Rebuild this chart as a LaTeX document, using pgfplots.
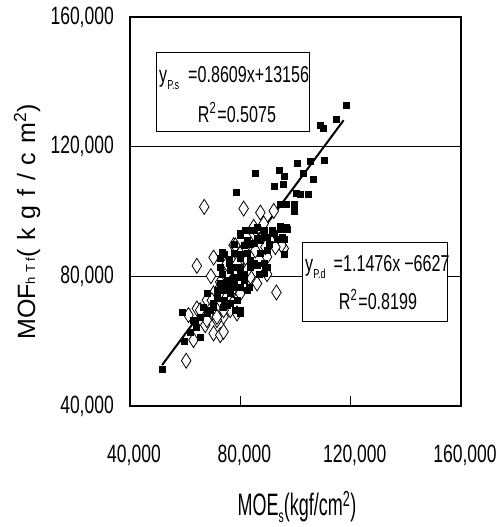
\documentclass[border=0pt]{standalone}
\usepackage{pgfplots}
\pgfplotsset{compat=1.18}
\usepackage{fontspec}
\setmainfont{Liberation Sans}
\newfontfamily\condf[FakeStretch=0.70]{Liberation Sans}
\newfontfamily\labf[FakeStretch=0.58]{Liberation Sans}
\newfontfamily\eqf[FakeStretch=0.70]{Liberation Sans}
\newfontfamily\widef[LetterSpace=35]{Liberation Sans}
\newfontfamily\widesub[LetterSpace=30]{Liberation Sans}

\pgfplotstableread{
x y
118416 132738
114538 128425
109084 126576
110054 125755
100600 115074
105206 115588
110296 115793
102782 111993
106418 110144
85450 111993
93934 112712
95752 110966
92116 107885
95510 108398
78542 105830
100358 105728
101812 105317
104600 105317
94540 102236
96722 102236
99630 102236
99388 100182
94540 95561
96722 95047
95146 91966
89692 92171
81814 94225
84844 94225
80000 93199
73330 87550
95752 86831
72724 85496
80000 85496
88480 83956
89692 82929
76360 81902
80000 80875
86662 80669
88480 80875
83026 76561
75148 75740
77572 76767
71512 73172
73694 70605
75148 71118
80000 69578
58786 68859
63998 64443
61816 62902
65452 61362
59756 60129
51756 51400
86056 91658
88480 93199
84844 90118
77572 87037
87268 87037
82420 87037
84844 83956
77572 82929
75148 78821
77572 79848
81208 78821
72724 77794
71512 75740
67876 74713
70300 71632
66664 70605
76360 74713
78784 72659
83632 82929
89692 88064
92116 93199
82420 91145
72724 82929
75754 83956
69088 69578
65452 67524
63028 66496
80000 92615
83026 94154
86056 95180
88480 94154
91510 94154
94540 94667
96964 94667
93328 91590
95752 91590
90298 90051
87268 91077
83632 90051
81208 89538
77572 90051
73936 86974
75754 85435
80000 86974
83632 84922
86056 83384
89086 82871
80000 82871
76360 81845
73330 80819
75148 78768
77572 77742
80000 76717
82420 75691
72724 75691
71512 73640
73936 72614
76360 71589
78178 69537
80000 68511
70300 70563
67876 68511
65452 67485
63634 66460
75148 76717
78784 79794
81208 80819
}\sqdata

\pgfplotstableread{
x y
66906 101415
81208 100901
87268 99669
92116 100182
64240 83237
70300 85804
69330 80053
89692 80669
93086 75021
95752 88577
94904 89604
92116 90118
77572 89604
78784 68551
68482 68037
64240 70091
61210 68037
70300 62389
72724 61875
73936 62902
63028 60335
67270 64956
60362 53967
71512 69578
75148 73686
80000 87037
84844 93199
87268 89091
82420 84983
77572 83956
75148 80875
72724 76767
77572 75740
80000 74713
70300 74713
67876 72659
83632 79848
86056 77794
89692 86010
90904 91145
84844 95253
88480 96280
81208 81902
76360 69578
73936 67524
71512 66496
67876 66496
65452 69578
78178 89538
81814 89026
85450 87999
89086 89026
92722 89026
78784 83897
82420 81845
75148 83897
72724 78255
76966 75691
69694 72614
73936 69537
71512 67485
}\dmdata

\begin{document}
\begin{tikzpicture}
\path (0bp,0bp) rectangle (502bp,527bp);
\begin{axis}[
  at={(130bp,121bp)}, anchor=south west,
  scale only axis, width=331bp, height=389bp,
  xmin=40000, xmax=160000, ymin=40000, ymax=160000,
  scaled ticks=false,
  xtick={40000,80000,120000,160000},
  xticklabels={{40,000},{80,000},{120,000},{160,000}},
  ytick={40000,80000,120000,160000},
  yticklabels={{40,000},{80,000},{120,000},{160,000}},
  xtick pos=bottom, tick align=inside,
  major tick length=10bp,
  xtick style={black, line width=0.6bp},
  ytick style={draw=none},
  ymajorgrids, grid style={black, line width=0.6bp},
  axis line style={line width=2.5bp},
  tick label style={font=\condf\fontsize{25bp}{25bp}\selectfont, inner sep=0pt},
  xticklabel style={anchor=north, yshift=-39bp, xshift=4bp},
  yticklabel style={anchor=east, xshift=-16bp},
  clip=false,
]
\addplot[only marks, mark=diamond*, mark size=7.5bp, mark options={fill=white, draw=black, line width=0.8bp, xscale=0.85}] table[x=x,y=y] {\dmdata};
\addplot[only marks, mark=square*, mark size=3bp, mark options={fill=black, draw=black, line width=0.2bp}] table[x=x,y=y] {\sqdata};
\addplot[black, line width=2bp, no marks] coordinates {(51636,52630) (117454,128163)};
\end{axis}
% equation boxes
\draw[line width=0.6bp, fill=white] (156bp,396bp) rectangle (309bp,475bp);
\node[anchor=west, inner sep=0pt] at (159bp,449bp) {\eqf\fontsize{23bp}{23bp}\selectfont y\raisebox{-0.3em}{\fontsize{13bp}{13bp}\selectfont P.s}\hspace{9bp}=0.8609x+13156};
\node[inner sep=0pt] at (237bp,415bp) {\eqf\fontsize{23bp}{23bp}\selectfont R\textsuperscript{2}\hspace{1bp}=0.5075};
\draw[line width=0.6bp, fill=white] (302bp,206bp) rectangle (447bp,285bp);
\node[anchor=west, inner sep=0pt] at (305bp,260bp) {\eqf\fontsize{23bp}{23bp}\selectfont y\raisebox{-0.3em}{\fontsize{13bp}{13bp}\selectfont P.d}\hspace{8bp}=1.1476x\,−6627};
\node[inner sep=0pt] at (378bp,228bp) {\eqf\fontsize{23bp}{23bp}\selectfont R\textsuperscript{2}\hspace{1bp}=0.8199};
% axis titles
\node[rotate=90, inner sep=0pt] at (27bp,305bp) {\fontsize{25bp}{25bp}\selectfont MOF{\widesub\fontsize{13bp}{13bp}\selectfont hTf}{\widef (kgf/cm\textsuperscript{2})}};
\node[inner sep=0pt] at (297bp,20bp) {\labf\fontsize{31bp}{31bp}\selectfont MOE\raisebox{-0.25em}{\fontsize{18bp}{18bp}\selectfont s}(kgf/cm\textsuperscript{2})};
\end{tikzpicture}
\end{document}
